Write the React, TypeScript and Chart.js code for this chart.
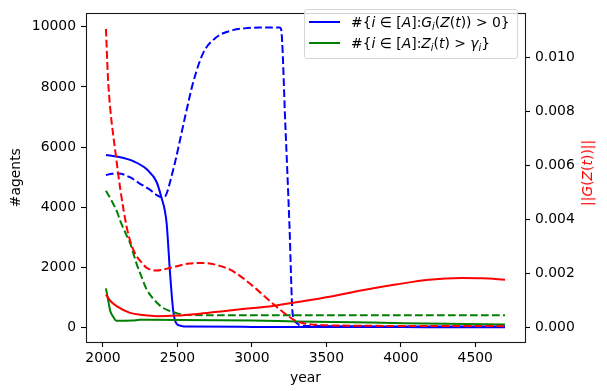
import React, { useEffect, useRef } from "react";
import { Chart, registerables } from "chart.js";

Chart.register(...registerables);

// ---- data ----
const blueSolidYears = [2020, 2100, 2205, 2294, 2361, 2394, 2415, 2428, 2450, 2472, 2493, 2520, 2561, 3000, 4000, 4700];
const blueSolidAgents = [5740, 5680, 5530, 5263, 4832, 4300, 3900, 3440, 1830, 547, 130, 60, 30, 20, 12, 10];

const blueDashYears = [2020, 2060, 2104, 2180, 2249, 2310, 2361, 2400, 2416, 2432, 2450, 2483, 2517, 2550, 2606, 2672, 2762, 2873, 2950, 3051, 3185, 3196, 3225, 3252, 3274, 3297, 3320, 3400, 4700];
const blueDashAgents = [5070, 5110, 5120, 5000, 4780, 4600, 4404, 4330, 4350, 4520, 4832, 5475, 6228, 6977, 8156, 9120, 9655, 9892, 9950, 9976, 9976, 9923, 6700, 3440, 440, 170, 80, 50, 30];

const greenSolidYears = [2020, 2035, 2049, 2070, 2089, 2150, 2200, 2250, 2300, 3000, 3300, 3800, 4300, 4700];
const greenSolidAgents = [1300, 900, 547, 350, 225, 225, 230, 255, 255, 230, 203, 165, 120, 96];

const greenDashYears = [2020, 2060, 2094, 2116, 2160, 2183, 2227, 2260, 2290, 2330, 2361, 2400, 2450, 2500, 2561, 2700, 4700];
const greenDashAgents = [4550, 4200, 3850, 3546, 3050, 2797, 2100, 1672, 1300, 1000, 830, 660, 547, 470, 418, 410, 410];

const redSolidYears = [2020, 2050, 2094, 2182, 2270, 2361, 2495, 2650, 2806, 2970, 3140, 3350, 3521, 3742, 3965, 4188, 4410, 4550, 4700];
const redSolidNorm = [0.00122, 0.00098, 0.00078, 0.00054, 0.00046, 0.00042, 0.00044, 0.00051, 0.0006, 0.0007, 0.0008, 0.00098, 0.00114, 0.00138, 0.00159, 0.00177, 0.00183, 0.00182, 0.00177];

const redDashYears = [2020, 2033, 2049, 2082, 2116, 2160, 2195, 2227, 2260, 2294, 2361, 2430, 2495, 2580, 2672, 2760, 2851, 2940, 3029, 3100, 3163, 3230, 3297, 3360, 3430, 3600, 4700];
const redDashNorm = [0.01106, 0.0093, 0.0081, 0.00657, 0.00514, 0.0037, 0.003, 0.00263, 0.0024, 0.00221, 0.00211, 0.00218, 0.00227, 0.00237, 0.00239, 0.00232, 0.00215, 0.00183, 0.00143, 0.00108, 0.00078, 0.00048, 0.00024, 0.00014, 0.0001, 0.00007, 0.00005];

const xTicks = [2000, 2500, 3000, 3500, 4000, 4500];
const leftTicks = [0, 2000, 4000, 6000, 8000, 10000];
const rightTicks = [0, 0.002, 0.004, 0.006, 0.008, 0.01];

const FONT = "'DejaVu Sans', sans-serif";
const BLUE = "#0000ff";
const GREEN = "#008000";
const RED = "#ff0000";
const DASH = [7.7, 3.3];

const pts = (xs: number[], ys: number[]) => xs.map((x, i) => ({ x, y: ys[i] }));

const framePlugin = {
  id: "frame",
  afterDatasetsDraw(chart: any) {
    const { ctx, chartArea: a } = chart;
    ctx.save();
    ctx.strokeStyle = "#1a1a1a";
    ctx.lineWidth = 1.1;
    ctx.strokeRect(Math.round(a.left) + 0.5, Math.round(a.top) + 0.5, Math.round(a.right - a.left), Math.round(a.bottom - a.top));
    ctx.restore();
  },
};

export default function App() {
  const ref = useRef<HTMLCanvasElement>(null);

  useEffect(() => {
    if (!ref.current) return;
    const line = (data: any[], color: string, dashed: boolean, axis: string) => ({
      data,
      borderColor: color,
      backgroundColor: color,
      borderWidth: 2,
      borderDash: dashed ? DASH : [],
      pointRadius: 0,
      cubicInterpolationMode: "monotone" as const,
      yAxisID: axis,
      fill: false,
    });
    const tickFont = { family: FONT, size: 13.9 };
    const gridOpts = { display: true, drawOnChartArea: false, drawTicks: true, tickLength: 5, tickColor: "#000", tickWidth: 1.1 };
    const chart = new Chart(ref.current, {
      type: "line",
      data: {
        datasets: [
          line(pts(redDashYears, redDashNorm), RED, true, "y1"),
          line(pts(redSolidYears, redSolidNorm), RED, false, "y1"),
          line(pts(greenDashYears, greenDashAgents), GREEN, true, "y"),
          line(pts(greenSolidYears, greenSolidAgents), GREEN, false, "y"),
          line(pts(blueDashYears, blueDashAgents), BLUE, true, "y"),
          line(pts(blueSolidYears, blueSolidAgents), BLUE, false, "y"),
        ],
      },
      options: {
        animation: false,
        responsive: false,
        layout: { padding: { top: 2, left: 0, right: 0, bottom: 0 } },
        plugins: { legend: { display: false }, tooltip: { enabled: false } },
        scales: {
          x: {
            type: "linear",
            min: 1886,
            max: 4834,
            grid: gridOpts as any,
            border: { display: false },
            afterBuildTicks: (s: any) => { s.ticks = xTicks.map((v) => ({ value: v })); },
            afterFit: (s: any) => { s.height = 49; },
            ticks: { font: tickFont, color: "#000", padding: 3, maxRotation: 0, callback: (v: any) => String(v) },
            title: { display: true, text: "year", font: { family: FONT, size: 13.9 }, color: "#000", padding: { top: 0, bottom: 4.5 } },
          },
          y: {
            type: "linear",
            position: "left",
            min: -483,
            max: 10450,
            grid: gridOpts as any,
            border: { display: false },
            afterBuildTicks: (s: any) => { s.ticks = leftTicks.map((v) => ({ value: v })); },
            afterFit: (s: any) => { s.width = 86; },
            ticks: { font: tickFont, color: "#000", padding: 5, callback: (v: any) => String(v) },
            title: { display: true, text: "#agents", font: { family: FONT, size: 13.9 }, color: "#000", padding: { top: 8.5, bottom: 0 } },
          },
          y1: {
            type: "linear",
            position: "right",
            min: -0.000538,
            max: 0.011638,
            grid: gridOpts as any,
            border: { display: false },
            afterBuildTicks: (s: any) => { s.ticks = rightTicks.map((v) => ({ value: v })); },
            afterFit: (s: any) => { s.width = 82; },
            ticks: { font: tickFont, color: "#000", padding: 5, callback: (v: any) => Number(v).toFixed(3) },
          },
        },
      },
      plugins: [framePlugin],
    });
    return () => chart.destroy();
  }, []);

  const mathFont: React.CSSProperties = { fontFamily: FONT, fontSize: 13.9, color: "#000", whiteSpace: "nowrap", lineHeight: "16px" };
  const sub: React.CSSProperties = { fontSize: "70%", verticalAlign: "-0.3em", lineHeight: 0, fontStyle: "italic" };
  const row = (color: string, content: React.ReactNode, top: number) => (
    <div style={{ position: "absolute", left: 0, top, height: 16, width: "100%" }}>
      <div style={{ position: "absolute", left: 4, top: 7, width: 31, height: 2, background: color }} />
      <div style={{ position: "absolute", left: 46, top: 0, ...mathFont }}>{content}</div>
    </div>
  );

  return (
    <div style={{ position: "fixed", left: 0, top: 0, width: 607, height: 391, background: "#fff" }}>
      <canvas ref={ref} width={607} height={391} style={{ display: "block", width: 607, height: 391 }} />
      <div
        style={{
          position: "absolute",
          left: 304,
          top: 9,
          width: 212,
          height: 48,
          border: "1px solid #d6d6d6",
          borderRadius: 3,
          background: "rgba(255,255,255,0.8)",
        }}
      >
        {row(BLUE, <span>#{"{"}<i>i</i> ∈ [<i>A</i>]:<i>G</i><sub style={sub}>i</sub>(<i>Z</i>(<i>t</i>)) &gt; 0{"}"}</span>, 4)}
        {row(GREEN, <span>#{"{"}<i>i</i> ∈ [<i>A</i>]:<i>Z</i><sub style={sub}>i</sub>(<i>t</i>) &gt; <i>γ</i><sub style={sub}>i</sub>{"}"}</span>, 25)}
      </div>
      <div
        style={{
          position: "absolute",
          left: 587,
          top: 172.5,
          transform: "translate(-50%, -50%) rotate(-90deg)",
          ...mathFont,
          color: RED,
        }}
      >
        ||<i>G</i>(<i>Z</i>(<i>t</i>))||
      </div>
    </div>
  );
}
